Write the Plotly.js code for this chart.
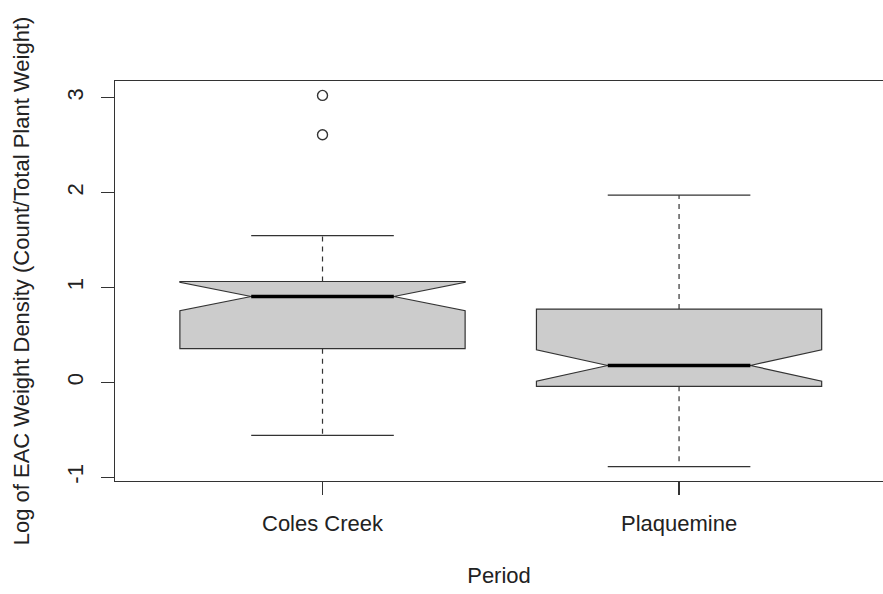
<!DOCTYPE html>
<html>
<head>
<meta charset="utf-8">
<script src="https://cdn.plot.ly/plotly-3.0.1.min.js"></script>
<style>
  html, body { margin: 0; padding: 0; background: #ffffff; }
  #chart { width: 883px; height: 594px; }
</style>
</head>
<body>
<div id="chart"></div>
<script>
// ---- data ----
const categories    = ['Coles Creek', 'Plaquemine'];
const positions     = [1, 2];
const q1            = [0.355, -0.042];
const medians       = [0.905, 0.178];
const q3            = [1.063, 0.773];
const notchSpan     = [0.150, 0.165];
const lowerWhisker  = [-0.558, -0.888];
const upperWhisker  = [1.547, 1.973];
const outlierGroup  = [1, 1];
const outlierValues = [2.61, 3.025];
const yTickValues   = [-1, 0, 1, 2, 3];

// ---- styles ----
const INK = '#333333';
const FILL = '#cccccc';
const HALF_STAPLE = 0.2;   // staple / median half-width (x units)
const FONT = {family: 'Liberation Sans, Arial, sans-serif', size: 22, color: '#222222'};

// box bodies (no whiskers; those are drawn dashed below)
const boxTrace = {
  type: 'box',
  x: positions,
  q1: q1,
  median: medians,
  q3: q3,
  lowerfence: q1,
  upperfence: q3,
  notchspan: notchSpan,
  notched: true,
  notchwidth: 0.25,
  width: 0.8,
  whiskerwidth: 0,
  boxpoints: false,
  fillcolor: FILL,
  line: {color: INK, width: 1.2},
  hoverinfo: 'skip',
  showlegend: false
};

// dashed whiskers
const wx = [], wy = [];
const sx = [], sy = [];
const mx = [], my = [];
positions.forEach((p, i) => {
  wx.push(p, p, null, p, p, null);
  wy.push(q3[i], upperWhisker[i], null, q1[i], lowerWhisker[i], null);
  sx.push(p - HALF_STAPLE, p + HALF_STAPLE, null, p - HALF_STAPLE, p + HALF_STAPLE, null);
  sy.push(upperWhisker[i], upperWhisker[i], null, lowerWhisker[i], lowerWhisker[i], null);
  mx.push(p - HALF_STAPLE, p + HALF_STAPLE, null);
  my.push(medians[i], medians[i], null);
});

const whiskerTrace = {
  type: 'scatter', mode: 'lines', x: wx, y: wy,
  line: {color: INK, width: 1.2, dash: '5px,5px'},
  hoverinfo: 'skip', showlegend: false, connectgaps: false
};
const stapleTrace = {
  type: 'scatter', mode: 'lines', x: sx, y: sy,
  line: {color: INK, width: 1.2},
  hoverinfo: 'skip', showlegend: false, connectgaps: false
};
const medianTrace = {
  type: 'scatter', mode: 'lines', x: mx, y: my,
  line: {color: '#000000', width: 3.5},
  hoverinfo: 'skip', showlegend: false, connectgaps: false
};
const outlierTrace = {
  type: 'scatter', mode: 'markers',
  x: outlierGroup.map(i => positions[i - 1]),
  y: outlierValues,
  marker: {symbol: 'circle-open', size: 10, color: INK, line: {width: 1.4, color: INK}},
  hoverinfo: 'skip', showlegend: false
};

const layout = {
  width: 883, height: 594,
  margin: {l: 115, r: 0, t: 81, b: 113, pad: 0},
  paper_bgcolor: '#ffffff',
  plot_bgcolor: '#ffffff',
  font: FONT,
  showlegend: false,
  xaxis: {
    range: [0.418, 2.572],
    tickmode: 'array',
    tickvals: positions,
    ticktext: categories,
    ticks: 'outside', ticklen: 13, tickwidth: 1.2, tickcolor: INK,
    ticklabelstandoff: 9,
    showline: true, linecolor: INK, linewidth: 1.2, mirror: true,
    showgrid: false, zeroline: false,
    tickfont: FONT,
    title: {text: 'Period', font: FONT, standoff: 33}
  },
  yaxis: {
    range: [-1.04, 3.177],
    tickmode: 'array',
    tickvals: yTickValues,
    ticktext: yTickValues.map(String),
    tickangle: -90,
    ticks: 'outside', ticklen: 13, tickwidth: 1.2, tickcolor: INK,
    ticklabelstandoff: 9,
    showline: true, linecolor: INK, linewidth: 1.2, mirror: false,
    showgrid: false, zeroline: false,
    tickfont: FONT,
    title: {text: 'Log of EAC Weight Density (Count/Total Plant Weight)', font: FONT, standoff: 27}
  }
};

Plotly.newPlot('chart', [boxTrace, whiskerTrace, stapleTrace, medianTrace, outlierTrace], layout,
  {displayModeBar: false, staticPlot: true});
</script>
</body>
</html>
